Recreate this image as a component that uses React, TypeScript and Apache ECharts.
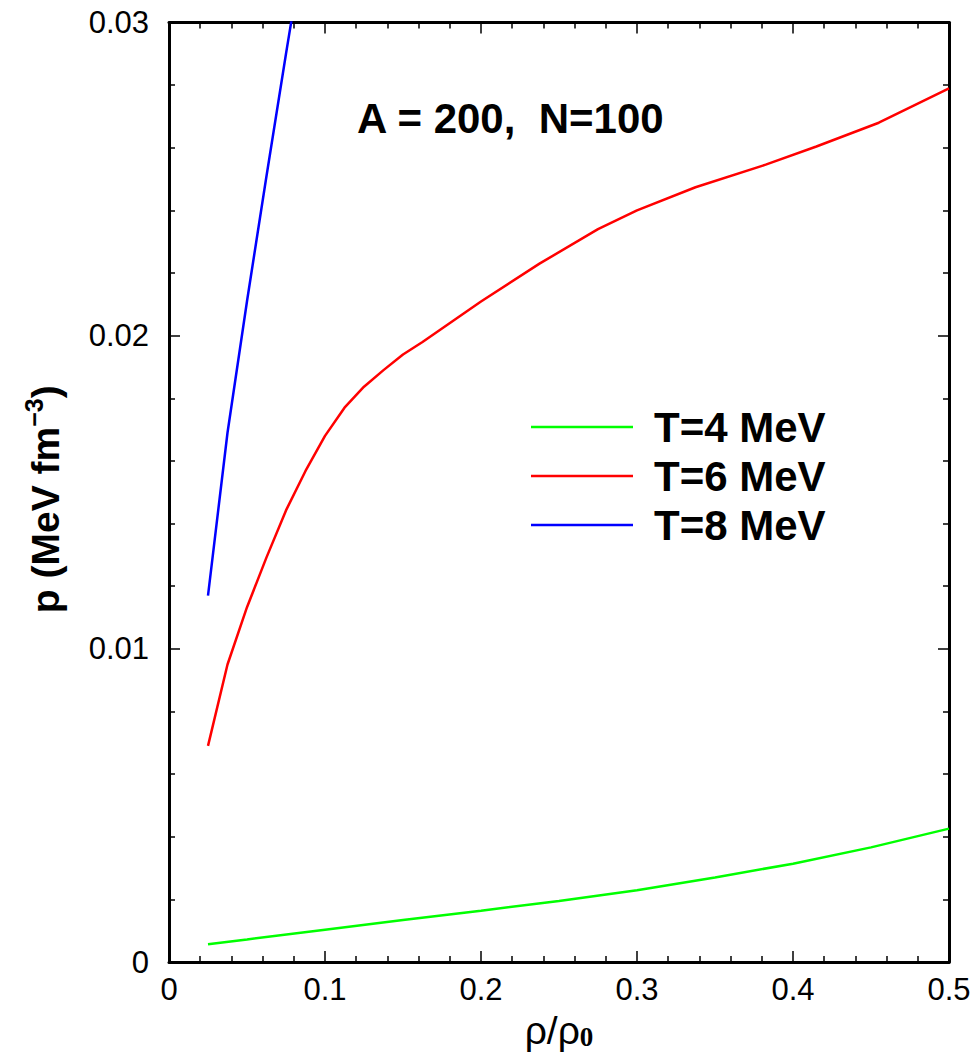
import React, { useEffect, useRef } from "react";
import * as echarts from "echarts";

const rhoT4 = [0.025, 0.05, 0.1, 0.15, 0.2, 0.25, 0.3, 0.35, 0.4, 0.45, 0.5];
const pT4 = [0.00057, 0.00072, 0.00103, 0.00134, 0.00164, 0.00195, 0.00229, 0.0027, 0.00314, 0.00366, 0.00426];

const rhoT6 = [0.025, 0.0375, 0.05, 0.0625, 0.075, 0.0875, 0.1, 0.1125, 0.125, 0.1375, 0.15, 0.1625, 0.2, 0.2375, 0.275, 0.3, 0.3375, 0.3825, 0.415, 0.455, 0.5];
const pT6 = [0.0069, 0.0095, 0.01133, 0.01292, 0.01442, 0.01568, 0.0168, 0.0177, 0.01837, 0.0189, 0.0194, 0.0198, 0.02109, 0.0223, 0.0234, 0.024, 0.02474, 0.02546, 0.02604, 0.0268, 0.0279];

const rhoT8 = [0.025, 0.0375, 0.05, 0.0625, 0.075, 0.0875];
const pT8 = [0.0117, 0.0169, 0.0211, 0.0251, 0.029, 0.0328];

const seriesNames = ["T=4 MeV", "T=6 MeV", "T=8 MeV"];
const seriesColors = ["#00ff00", "#ff0000", "#0000ff"];
const annotation = "A = 200,  N=100";

const FONT = "'Liberation Sans', Arial, Helvetica, sans-serif";

function zip(xs: number[], ys: number[]) {
  return xs.map((x, i) => [x, ys[i]]);
}

function frame() {
  return {
    axisLine: { show: true, onZero: false, lineStyle: { color: "#000", width: 3 } },
    axisTick: { show: true, inside: true, length: 11, lineStyle: { color: "#000", width: 1.5 } },
    minorTick: { show: true, splitNumber: 5, length: 6, lineStyle: { color: "#000", width: 1.5 } },
    splitLine: { show: false },
    minorSplitLine: { show: false },
  };
}

export default function App() {
  const ref = useRef<HTMLDivElement>(null);
  useEffect(() => {
    if (!ref.current) return;
    const chart = echarts.init(ref.current, null, { renderer: "svg" });
    const datas = [zip(rhoT4, pT4), zip(rhoT6, pT6), zip(rhoT8, pT8)];
    chart.setOption({
      animation: false,
      backgroundColor: "#fff",
      grid: { left: 169, right: 27, top: 22.5, bottom: 92, containLabel: false },
      xAxis: [
        {
          type: "value", min: 0, max: 0.5, interval: 0.1, position: "bottom",
          ...frame(),
          axisLabel: {
            color: "#000", fontSize: 31, fontFamily: FONT, margin: 12,
            formatter: (v: number) => (v === 0 ? "0" : v.toFixed(1)),
          },
          name: "{a|ρ/ρ}{b|0}",
          nameLocation: "middle",
          nameGap: 44,
          nameTextStyle: {
            rich: {
              a: { fontSize: 39, fontFamily: FONT, color: "#000", lineHeight: 44, verticalAlign: "bottom" },
              b: { fontSize: 27, fontFamily: "'Liberation Serif', serif", fontWeight: "bold", color: "#000", lineHeight: 26, verticalAlign: "bottom" },
            },
          },
        },
        {
          type: "value", min: 0, max: 0.5, interval: 0.1, position: "top",
          ...frame(),
          axisLabel: { show: false },
        },
      ],
      yAxis: [
        {
          type: "value", min: 0, max: 0.03, interval: 0.01, position: "left",
          ...frame(),
          axisLabel: {
            color: "#000", fontSize: 31, fontFamily: FONT, margin: 20,
            formatter: (v: number) => (v === 0 ? "0" : v.toFixed(2)),
          },
          name: "{a|p (MeV fm}{s|−3}{a|)}",
          nameLocation: "middle",
          nameRotate: 90,
          nameGap: 104,
          nameTextStyle: {
            padding: [0, 14, 0, 0],
            rich: {
              a: { fontSize: 39, fontFamily: FONT, fontWeight: "bold", color: "#000", lineHeight: 44, verticalAlign: "bottom" },
              s: { fontSize: 25, fontFamily: FONT, fontWeight: "bold", color: "#000", lineHeight: 25, verticalAlign: "top", padding: [0, 0, 28, 0] },
            },
          },
        },
        {
          type: "value", min: 0, max: 0.03, interval: 0.01, position: "right",
          ...frame(),
          axisLabel: { show: false },
        },
      ],
      legend: {
        show: true,
        orient: "vertical",
        left: 531,
        top: 402.5,
        padding: 0,
        itemGap: 0,
        itemWidth: 102,
        itemHeight: 2.5,
        icon: "rect",
        data: seriesNames,
        textStyle: {
          color: "#000", fontSize: 42, fontWeight: "bold", fontFamily: FONT,
          lineHeight: 49, padding: [0, 0, 0, 16],
        },
      },
      graphic: [
        {
          type: "text",
          left: 357,
          top: 97,
          style: { text: annotation, fill: "#000", font: `bold 42px ${FONT}` },
        },
      ],
      series: [
        ...datas.map((d, i) => ({
          name: seriesNames[i],
          type: "line",
          data: d,
          xAxisIndex: 0,
          yAxisIndex: 0,
          showSymbol: false,
          symbol: "none",
          smooth: false,
          clip: true,
          color: seriesColors[i],
          lineStyle: { color: seriesColors[i], width: 2.5 },
        })),
        {
          name: "frame",
          type: "line",
          data: [],
          xAxisIndex: 1,
          yAxisIndex: 1,
          showSymbol: false,
          silent: true,
        },
      ],
    });
    return () => chart.dispose();
  }, []);
  return <div ref={ref} style={{ position: "fixed", left: 0, top: 0, width: 976, height: 1055 }} />;
}
